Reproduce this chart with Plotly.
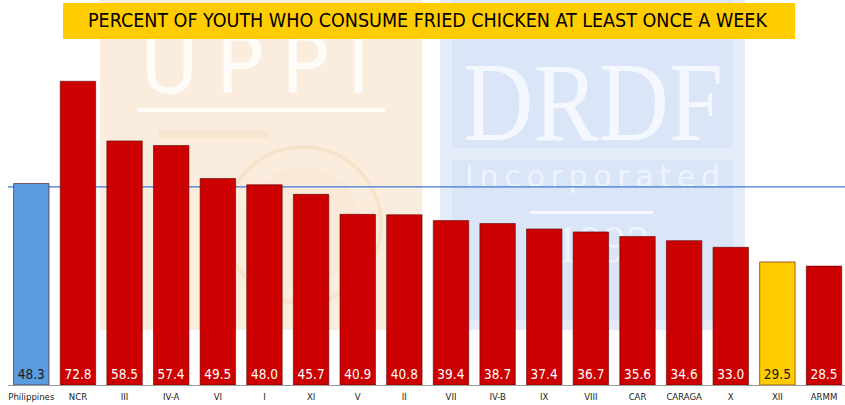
import base64
import glob
import plotly.graph_objects as go

# ---------------- data ----------------
categories = ["Philippines", "NCR", "III", "IV-A", "VI", "I", "XI", "V", "II", "VII",
              "IV-B", "IX", "VIII", "CAR", "CARAGA", "X", "XII", "ARMM"]
values = [48.3, 72.8, 58.5, 57.4, 49.5, 48.0, 45.7, 40.9, 40.8, 39.4,
          38.7, 37.4, 36.7, 35.6, 34.6, 33.0, 29.5, 28.5]
bar_colors = ["#5B9BE0"] + ["#CC0000"] * 15 + ["#FFCC00", "#CC0000"]
label_colors = ["#1A1A1A"] + ["#FFFFFF"] * 15 + ["#1A1A1A", "#FFFFFF"]
reference_value = 47.5
title_text = "PERCENT OF YOUTH WHO CONSUME FRIED CHICKEN AT LEAST ONCE A WEEK"

# ---------------- fonts (pick a condensed face if one is installed) ----------------
_font_files = " ".join(glob.glob("/usr/share/fonts/**/*.*", recursive=True)
                       + glob.glob("/usr/local/share/fonts/**/*.*", recursive=True))
if "LiberationSansNarrow" in _font_files:
    NARROW, TITLE_SIZE, VAL_SIZE, TICK_SIZE = "Liberation Sans Narrow", 21, 16, 10
elif "DejaVuSansCondensed" in _font_files:
    NARROW, TITLE_SIZE, VAL_SIZE, TICK_SIZE = "DejaVu Sans Condensed", 19.5, 13.5, 9.5
else:
    NARROW, TITLE_SIZE, VAL_SIZE, TICK_SIZE = "Liberation Sans", 18, 14, 9

# ---------------- geometry ----------------
W, H = 845, 405
ML, MR, MT, MB = 8, 0, 60, 20
PW, PH = W - ML - MR, H - MT - MB


def px_x(px):
    return (px - ML) / PW


def px_y(py):
    return 1 - (py - MT) / PH


# ---------------- watermark (background decoration) ----------------
svg = f'''<svg xmlns="http://www.w3.org/2000/svg" width="{W}" height="{H}" viewBox="0 0 {W} {H}">
<rect x="100" y="0" width="322" height="330" fill="#FBEDDD"/>
<text x="140" y="93" textLength="230" lengthAdjust="spacing" font-family="DejaVu Sans, sans-serif" font-size="80" fill="#FFFFFF" fill-opacity="0.8">UPPI</text>
<rect x="137" y="108" width="248" height="4" fill="#FFFFFF" fill-opacity="0.85"/>
<rect x="158" y="130" width="110" height="8" fill="#F6E4CB" fill-opacity="0.7"/>
<circle cx="303" cy="225" r="78" fill="none" stroke="#F2DFC2" stroke-width="4" stroke-opacity="0.7"/>
<circle cx="303" cy="225" r="58" fill="#F8E8D2" fill-opacity="0.5"/>
<rect x="440" y="0" width="305" height="330" fill="#E4ECF9"/>
<rect x="452" y="0" width="281" height="148" fill="#DAE5F7"/>
<rect x="452" y="160" width="281" height="160" fill="#DAE5F7"/>
<text x="463" y="140" textLength="260" lengthAdjust="spacingAndGlyphs" font-family="Liberation Serif, DejaVu Serif, serif" font-size="112" fill="#F4F7FD">DRDF</text>
<text x="465" y="187" textLength="255" lengthAdjust="spacing" font-family="DejaVu Sans, sans-serif" font-size="30" fill="#EEF3FC">Incorporated</text>
<rect x="530" y="211" width="123" height="3" fill="#F4F7FD"/>
<text x="555" y="262" textLength="95" lengthAdjust="spacingAndGlyphs" font-family="Liberation Serif, DejaVu Serif, serif" font-size="52" fill="#EEF3FC">1993</text>
</svg>'''
svg_uri = "data:image/svg+xml;base64," + base64.b64encode(svg.encode("utf-8")).decode("ascii")

# ---------------- figure ----------------
fig = go.Figure()
fig.add_trace(go.Bar(
    x=categories,
    y=values,
    width=0.76,
    marker=dict(color=bar_colors, line=dict(color="rgba(100,0,0,0.6)", width=1)),
    text=[f"{v:.1f}" for v in values],
    textposition="inside",
    insidetextanchor="start",
    textangle=0,
    textfont=dict(family=NARROW, size=VAL_SIZE, color=label_colors),
    cliponaxis=False,
    hoverinfo="x+y",
))

fig.add_shape(type="line", xref="paper", yref="y", x0=0, x1=px_x(W), y0=reference_value, y1=reference_value,
              line=dict(color="#3C78D8", width=1.2), layer="below")

# title box
fig.add_shape(type="rect", xref="paper", yref="paper", x0=px_x(63), x1=px_x(795), y0=px_y(39), y1=px_y(3),
              fillcolor="#FFCC00", line=dict(width=0), layer="above")
fig.add_annotation(xref="paper", yref="paper", x=px_x(428), y=px_y(21), text=title_text, showarrow=False,
                   font=dict(family=NARROW, size=TITLE_SIZE, color="#000000"), xanchor="center", yanchor="middle")

fig.add_layout_image(dict(source=svg_uri, xref="paper", yref="paper",
                          x=px_x(0), y=px_y(0), sizex=W / PW, sizey=H / PH,
                          xanchor="left", yanchor="top", sizing="stretch", layer="below", opacity=1))

fig.update_layout(
    width=W, height=H,
    margin=dict(l=ML, r=MR, t=MT, b=MB, pad=0),
    paper_bgcolor="#FFFFFF",
    plot_bgcolor="rgba(0,0,0,0)",
    showlegend=False,
    bargap=0.24,
    xaxis=dict(range=[-0.5, 17.45], showgrid=False, zeroline=False, showline=True,
               linecolor="#9A9A9A", linewidth=1, ticks="", ticklabelstandoff=3,
               tickfont=dict(family=NARROW, size=TICK_SIZE, color="#222222"), fixedrange=True),
    yaxis=dict(range=[0, 77.9], visible=False, showgrid=False, zeroline=False, fixedrange=True),
)

fig.write_html("out.html", config={"displayModeBar": False},
               post_script="document.body.style.margin='0';document.body.style.padding='0';")
